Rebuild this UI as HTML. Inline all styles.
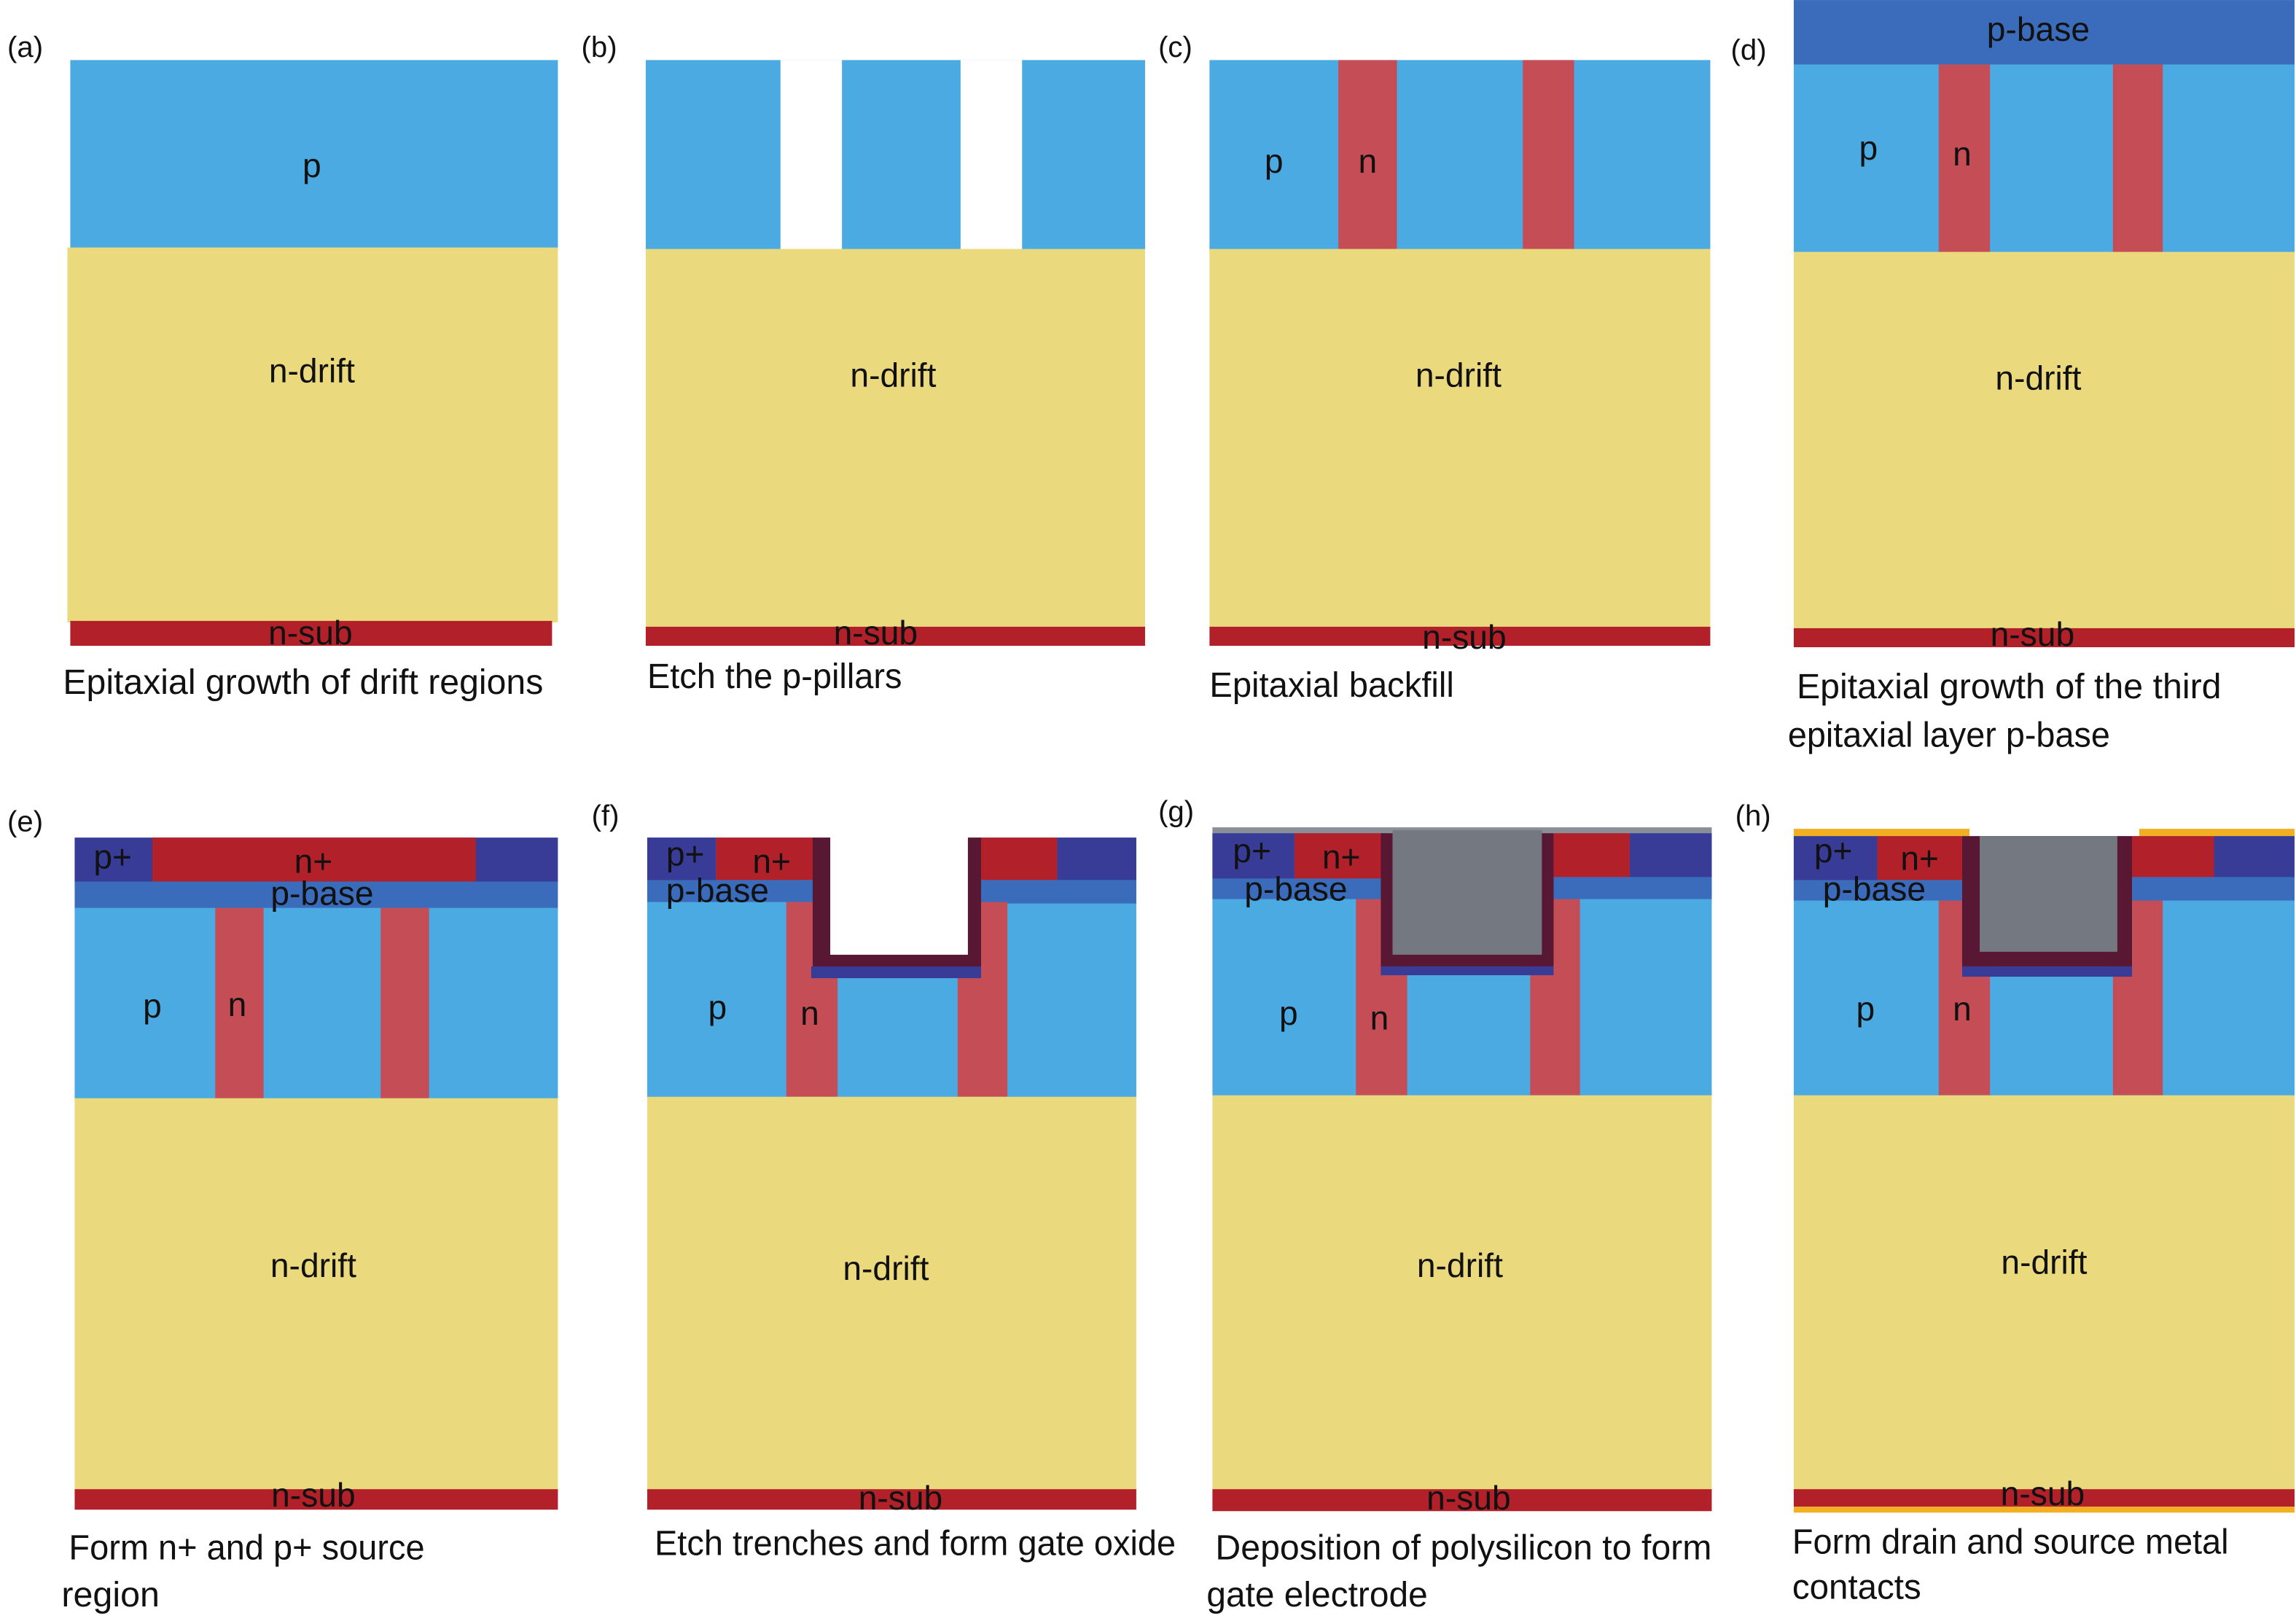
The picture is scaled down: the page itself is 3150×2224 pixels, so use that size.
<!DOCTYPE html>
<html><head><meta charset="utf-8"><style>
html,body{margin:0;padding:0;background:#fff}
svg{display:block}
text{font-family:"Liberation Sans",sans-serif;fill:#111;dominant-baseline:central}
.l{font-size:23px;text-anchor:middle}
.c{font-size:24px}
.t{font-size:20px}
</style></head><body>
<svg width="3150" height="2224" viewBox="0 0 1568 1107" xmlns="http://www.w3.org/2000/svg">
<!-- (a) -->
<rect x="48" y="41" width="333" height="129" fill="#4BAAE1"/>
<rect x="46" y="169" width="335" height="256" fill="#EBD97E"/>
<rect x="48" y="424" width="329" height="17" fill="#B22029"/>
<text class="l" x="213" y="113">p</text>
<text class="l" x="213" y="253">n-drift</text>
<text class="l" x="212" y="432">n-sub</text>
<text class="c" x="43" y="466" textLength="328" lengthAdjust="spacingAndGlyphs">Epitaxial growth of drift regions</text>
<text class="t" x="5" y="32">(a)</text>
<!-- (b) -->
<rect x="441" y="41" width="341" height="130" fill="#4BAAE1"/>
<rect x="533" y="41" width="42" height="130" fill="#fff"/>
<rect x="656" y="41" width="42" height="130" fill="#fff"/>
<rect x="441" y="170" width="341" height="259" fill="#EBD97E"/>
<rect x="441" y="428" width="341" height="13" fill="#B22029"/>
<text class="l" x="610" y="256">n-drift</text>
<text class="l" x="598" y="432">n-sub</text>
<text class="c" x="442" y="462" textLength="174" lengthAdjust="spacingAndGlyphs">Etch the p-pillars</text>
<text class="t" x="397" y="32">(b)</text>
<!-- (c) -->
<rect x="826" y="41" width="342" height="130" fill="#4BAAE1"/>
<rect x="914" y="41" width="40" height="130" fill="#C44D56"/>
<rect x="1040" y="41" width="35" height="130" fill="#C44D56"/>
<rect x="826" y="170" width="342" height="259" fill="#EBD97E"/>
<rect x="826" y="428" width="342" height="13" fill="#B22029"/>
<text class="l" x="870" y="110">p</text>
<text class="l" x="934" y="110">n</text>
<text class="l" x="996" y="256">n-drift</text>
<text class="l" x="1000" y="435">n-sub</text>
<text class="c" x="826" y="468" textLength="167" lengthAdjust="spacingAndGlyphs">Epitaxial backfill</text>
<text class="t" x="791" y="32">(c)</text>
<!-- (d) -->
<rect x="1225" y="0" width="342" height="45" fill="#3A6CBB"/>
<rect x="1225" y="44" width="342" height="129" fill="#4BAAE1"/>
<rect x="1324" y="44" width="35" height="129" fill="#C44D56"/>
<rect x="1443" y="44" width="34" height="129" fill="#C44D56"/>
<rect x="1225" y="172" width="342" height="258" fill="#EBD97E"/>
<rect x="1225" y="429" width="342" height="13" fill="#B22029"/>
<text class="l" x="1392" y="20">p-base</text>
<text class="l" x="1276" y="101">p</text>
<text class="l" x="1340" y="105">n</text>
<text class="l" x="1392" y="258">n-drift</text>
<text class="l" x="1388" y="433">n-sub</text>
<text class="c" x="1227" y="469" textLength="290" lengthAdjust="spacingAndGlyphs">Epitaxial growth of the third</text>
<text class="c" x="1221" y="502" textLength="220" lengthAdjust="spacingAndGlyphs">epitaxial layer p-base</text>
<text class="t" x="1182" y="34">(d)</text>
<!-- (e) -->
<rect x="51" y="572" width="330" height="31" fill="#383C97"/>
<rect x="104" y="572" width="221" height="30" fill="#B22029"/>
<rect x="51" y="602" width="330" height="19" fill="#3A6CBB"/>
<rect x="51" y="620" width="330" height="131" fill="#4BAAE1"/>
<rect x="147" y="620" width="33" height="131" fill="#C44D56"/>
<rect x="260" y="620" width="33" height="131" fill="#C44D56"/>
<rect x="51" y="750" width="330" height="268" fill="#EBD97E"/>
<rect x="51" y="1017" width="330" height="14" fill="#B22029"/>
<text class="l" x="77" y="585">p+</text>
<text class="l" x="214" y="588">n+</text>
<text class="l" x="220" y="610">p-base</text>
<text class="l" x="104" y="687">p</text>
<text class="l" x="162" y="686">n</text>
<text class="l" x="214" y="864">n-drift</text>
<text class="l" x="214" y="1021">n-sub</text>
<text class="c" x="47" y="1057" textLength="243" lengthAdjust="spacingAndGlyphs">Form n+ and p+ source</text>
<text class="c" x="42" y="1089" textLength="67" lengthAdjust="spacingAndGlyphs">region</text>
<text class="t" x="5" y="561">(e)</text>
<!-- (f) -->
<rect x="442" y="572" width="334" height="178" fill="#4BAAE1"/>
<rect x="442" y="572" width="47" height="30" fill="#383C97"/>
<rect x="489" y="572" width="67" height="29" fill="#B22029"/>
<rect x="442" y="601" width="114" height="15" fill="#3A6CBB"/>
<rect x="669" y="572" width="53" height="29" fill="#B22029"/>
<rect x="722" y="572" width="54" height="29" fill="#383C97"/>
<rect x="669" y="601" width="107" height="16" fill="#3A6CBB"/>
<rect x="537" y="616" width="35" height="133" fill="#C44D56"/>
<rect x="654" y="616" width="34" height="133" fill="#C44D56"/>
<rect x="555" y="572" width="115" height="89" fill="#581834"/>
<rect x="567" y="570" width="94" height="82" fill="#fff"/>
<rect x="554" y="660" width="116" height="8" fill="#383C97"/>
<rect x="442" y="749" width="334" height="269" fill="#EBD97E"/>
<rect x="442" y="1017" width="334" height="14" fill="#B22029"/>
<text class="l" x="468" y="583">p+</text>
<text class="l" x="527" y="588">n+</text>
<text class="l" x="490" y="608">p-base</text>
<text class="l" x="490" y="688">p</text>
<text class="l" x="553" y="692">n</text>
<text class="l" x="605" y="866">n-drift</text>
<text class="l" x="615" y="1023">n-sub</text>
<text class="c" x="447" y="1054" textLength="356" lengthAdjust="spacingAndGlyphs">Etch trenches and form gate oxide</text>
<text class="t" x="404" y="557">(f)</text>
<!-- (g) -->
<rect x="828" y="565" width="341" height="4" fill="#8A8E96"/>
<rect x="828" y="569" width="341" height="180" fill="#4BAAE1"/>
<rect x="828" y="569" width="56" height="31" fill="#383C97"/>
<rect x="884" y="569" width="60" height="31" fill="#B22029"/>
<rect x="828" y="600" width="116" height="14" fill="#3A6CBB"/>
<rect x="1061" y="569" width="52" height="30" fill="#B22029"/>
<rect x="1113" y="569" width="56" height="30" fill="#383C97"/>
<rect x="1061" y="599" width="108" height="15" fill="#3A6CBB"/>
<rect x="926" y="614" width="35" height="134" fill="#C44D56"/>
<rect x="1045" y="614" width="34" height="134" fill="#C44D56"/>
<rect x="943" y="569" width="118" height="91" fill="#581834"/>
<rect x="951" y="567" width="102" height="85" fill="#747880"/>
<rect x="943" y="660" width="118" height="6" fill="#383C97"/>
<rect x="828" y="748" width="341" height="270" fill="#EBD97E"/>
<rect x="828" y="1017" width="341" height="15" fill="#B22029"/>
<text class="l" x="855" y="581">p+</text>
<text class="l" x="916" y="585">n+</text>
<text class="l" x="885" y="607">p-base</text>
<text class="l" x="880" y="692">p</text>
<text class="l" x="942" y="695">n</text>
<text class="l" x="997" y="864">n-drift</text>
<text class="l" x="1003" y="1023">n-sub</text>
<text class="c" x="830" y="1057" textLength="339" lengthAdjust="spacingAndGlyphs">Deposition of polysilicon to form</text>
<text class="c" x="824" y="1089" textLength="151" lengthAdjust="spacingAndGlyphs">gate electrode</text>
<text class="t" x="791" y="554">(g)</text>
<!-- (h) -->
<rect x="1225" y="566" width="120" height="6" fill="#F2AF22"/>
<rect x="1461" y="566" width="106" height="6" fill="#F2AF22"/>
<rect x="1225" y="571" width="342" height="178" fill="#4BAAE1"/>
<rect x="1225" y="571" width="57" height="31" fill="#383C97"/>
<rect x="1282" y="571" width="58" height="30" fill="#B22029"/>
<rect x="1225" y="601" width="115" height="14" fill="#3A6CBB"/>
<rect x="1456" y="571" width="56" height="28" fill="#B22029"/>
<rect x="1512" y="571" width="55" height="28" fill="#383C97"/>
<rect x="1456" y="599" width="111" height="16" fill="#3A6CBB"/>
<rect x="1324" y="615" width="35" height="133" fill="#C44D56"/>
<rect x="1443" y="615" width="34" height="133" fill="#C44D56"/>
<rect x="1340" y="571" width="116" height="89" fill="#581834"/>
<rect x="1352" y="571" width="94" height="79" fill="#747880"/>
<rect x="1340" y="660" width="116" height="7" fill="#383C97"/>
<rect x="1225" y="748" width="342" height="270" fill="#EBD97E"/>
<rect x="1225" y="1017" width="342" height="12" fill="#B22029"/>
<rect x="1225" y="1029" width="342" height="4" fill="#F2AF22"/>
<text class="l" x="1252" y="581">p+</text>
<text class="l" x="1311" y="586">n+</text>
<text class="l" x="1280" y="607">p-base</text>
<text class="l" x="1274" y="689">p</text>
<text class="l" x="1340" y="689">n</text>
<text class="l" x="1396" y="862">n-drift</text>
<text class="l" x="1395" y="1020">n-sub</text>
<text class="c" x="1224" y="1053" textLength="298" lengthAdjust="spacingAndGlyphs">Form drain and source metal</text>
<text class="c" x="1224" y="1084" textLength="88" lengthAdjust="spacingAndGlyphs">contacts</text>
<text class="t" x="1185" y="557">(h)</text>
</svg>
</body></html>
